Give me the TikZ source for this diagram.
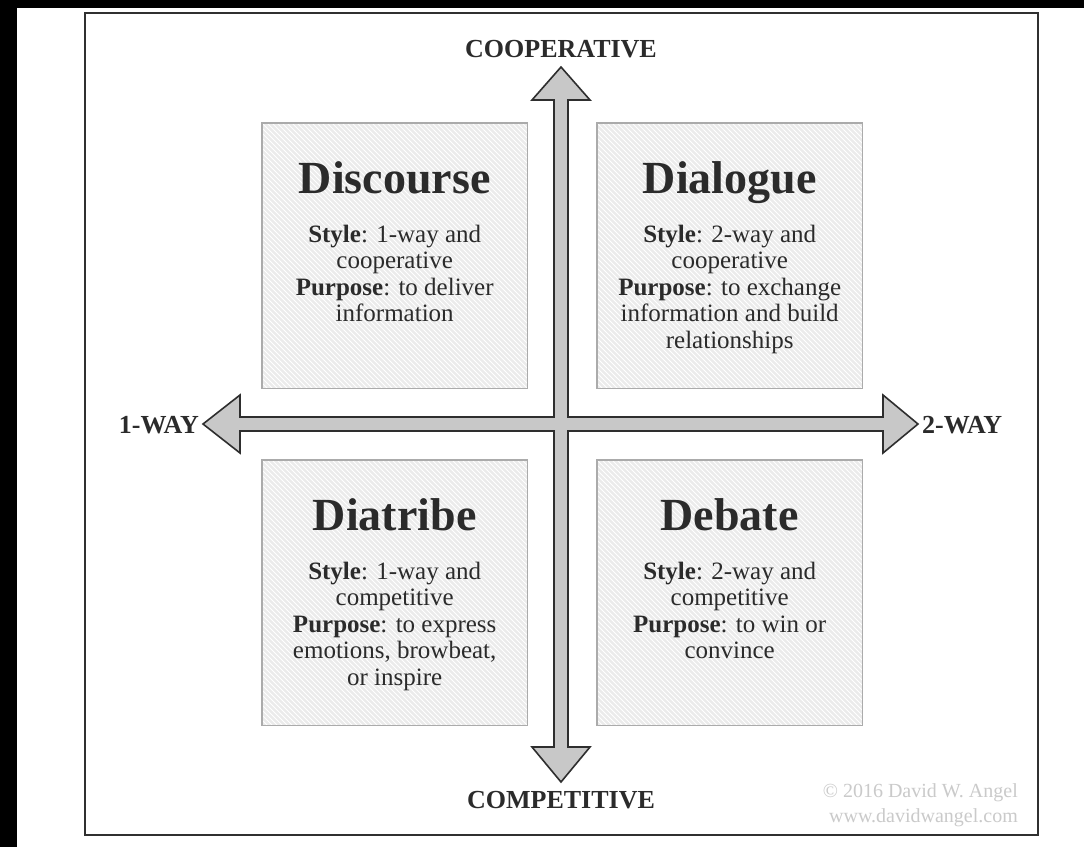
\documentclass[tikz,border=0pt]{standalone}
\usepackage{fontspec}
\setmainfont{Liberation Serif}
\usetikzlibrary{calc}
\definecolor{arrowfill}{HTML}{C8C8C8}
\definecolor{arrowline}{HTML}{2E2E2E}
\definecolor{boxfill}{HTML}{EBEBEB}
\definecolor{boxline}{HTML}{ABABAB}
\definecolor{txt}{HTML}{2B2B2B}
\definecolor{faint}{HTML}{CACACA}
\definecolor{framecol}{HTML}{303030}
\begin{document}
\begin{tikzpicture}[x=1pt,y=-1pt,
 quadbox/.style={draw=none,fill=boxfill,minimum width=265pt,minimum height=265pt,inner sep=0pt,anchor=north west},
 quadtitle/.style={font=\fontsize{46}{50}\selectfont\bfseries,text=txt,anchor=base,inner sep=0pt},
 quadbody/.style={font=\fontsize{25}{26.5}\selectfont,text=txt,align=center,anchor=base,inner sep=0pt},
 axislabel/.style={font=\fontsize{26}{28}\selectfont\bfseries,text=txt,inner sep=0pt},
 hatchline/.style={white,line width=0.9pt},
 crossshape/.style={fill=arrowfill,draw=arrowline,line width=1.6pt,line join=miter},
 credit/.style={font=\fontsize{20}{25}\selectfont,text=faint,align=right,anchor=base east,inner sep=0pt}]
\useasboundingbox (0,0) rectangle (1084,847);
\fill[black] (0,0) rectangle (1084,847);
\fill[white] (17,8) rectangle (1084,847);
\draw[framecol,line width=2pt] (85,13) rectangle (1038,835);

% quadrant boxes
\node[quadbox] (b1) at (262,123) {};
\node[quadbox] (b2) at (597,123) {};
\node[quadbox] (b3) at (262,460) {};
\node[quadbox] (b4) at (597,460) {};
\foreach \b in {b1,b2,b3,b4}{
  \begin{scope}
    \clip (\b.south west) rectangle (\b.north east);
    \foreach \i in {-270,-265,...,270}
      \draw[hatchline] ($(\b.north west)+(\i,0)$) -- ++(275,275);
  \end{scope}
  \draw[boxline,line width=1.4pt] (\b.south west) rectangle (\b.north east);
}

% cross of arrows
\coordinate (c) at (561,424);
\draw[crossshape] (561,67) -- (590,100) -- (568,100) -- (568,417) -- (883,417) -- (883,395)
  -- (918,424) -- (883,453) -- (883,431) -- (568,431) -- (568,747) -- (590,747)
  -- (561,782) -- (532,747) -- (554,747) -- (554,431) -- (240,431) -- (240,453)
  -- (203,424) -- (240,395) -- (240,417) -- (554,417) -- (554,100) -- (532,100) -- cycle;

% axis labels
\node[axislabel,anchor=base] (coop) at (561,57) {COOPERATIVE};
\node[axislabel,anchor=base] (comp) at (561,808) {COMPETITIVE};
\node[axislabel,anchor=base east] (oneway) at (199,433) {1-WAY};
\node[axislabel,anchor=base west] (twoway) at (922,433) {2-WAY};

% titles
\node[quadtitle] (t1) at ($(b1.north)+(0,70)$) {Discourse};
\node[quadtitle] (t2) at ($(b2.north)+(0,70)$) {Dialogue};
\node[quadtitle] (t3) at ($(b3.north)+(0,70)$) {Diatribe};
\node[quadtitle] (t4) at ($(b4.north)+(0,70)$) {Debate};

% bodies (anchor base = baseline of last line)
\node[quadbody] (d1) at ($(b1.north)+(0,119+3*26.5)$) {\textbf{Style}: 1-way and\\cooperative\\\textbf{Purpose}: to deliver\\information};
\node[quadbody] (d2) at ($(b2.north)+(0,119+4*26.5)$) {\textbf{Style}: 2-way and\\cooperative\\\textbf{Purpose}: to exchange\\information and build\\relationships};
\node[quadbody] (d3) at ($(b3.north)+(0,119+4*26.5)$) {\textbf{Style}: 1-way and\\competitive\\\textbf{Purpose}: to express\\emotions, browbeat,\\or inspire};
\node[quadbody] (d4) at ($(b4.north)+(0,119+3*26.5)$) {\textbf{Style}: 2-way and\\competitive\\\textbf{Purpose}: to win or\\convince};

% credit
\node[credit] (cr1) at (1018,797) {© 2016 David W. Angel};
\node[credit] (cr2) at (1018,822) {www.davidwangel.com};
\end{tikzpicture}
\end{document}
